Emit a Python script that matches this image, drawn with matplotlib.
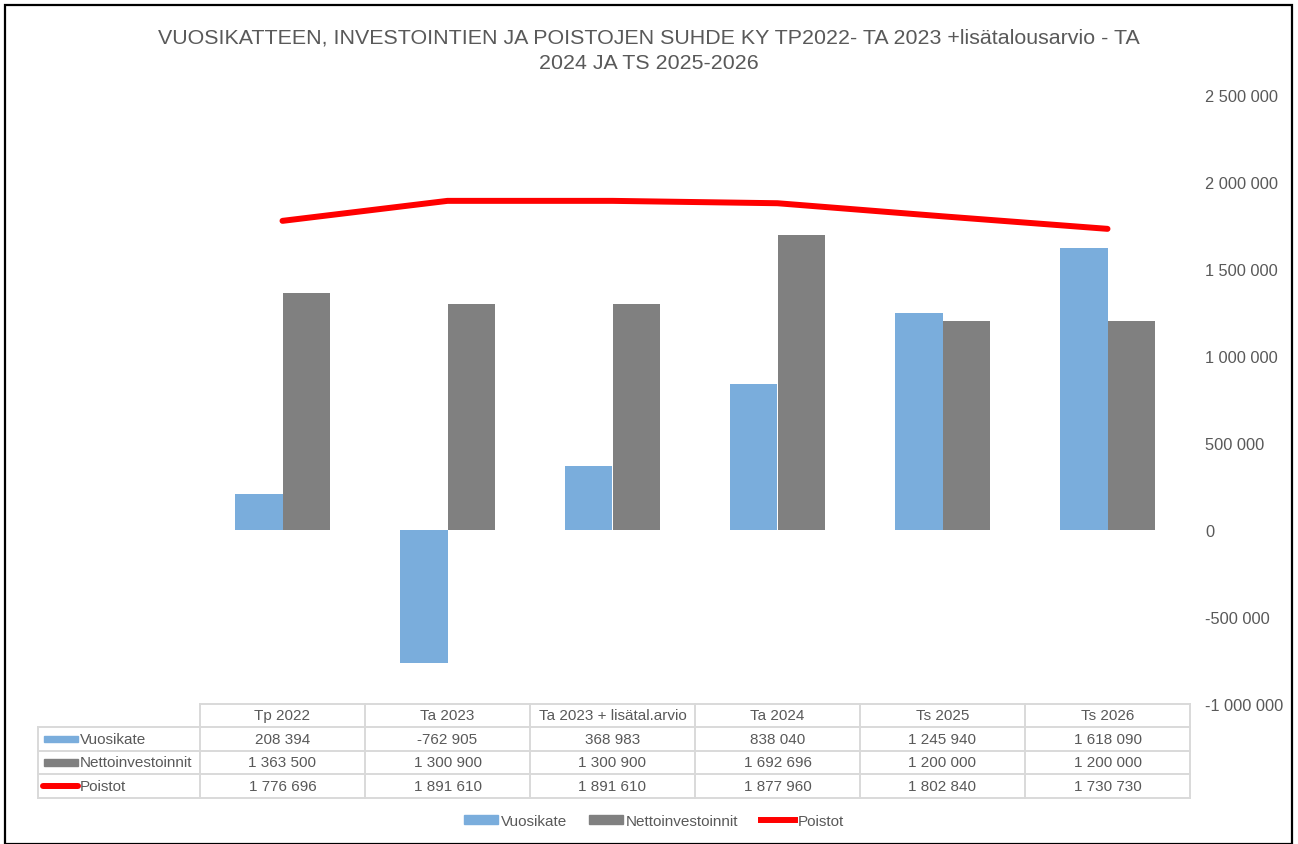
import matplotlib.pyplot as plt
import numpy as np
from matplotlib.patches import Rectangle, Patch
from matplotlib.lines import Line2D
from matplotlib.ticker import FuncFormatter

# data
categories = ["Tp 2022", "Ta 2023", "Ta 2023 + lisätal.arvio", "Ta 2024", "Ts 2025", "Ts 2026"]
vuosikate = [208394, -762905, 368983, 838040, 1245940, 1618090]
netto = [1363500, 1300900, 1300900, 1692696, 1200000, 1200000]
poistot = [1776696, 1891610, 1891610, 1877960, 1802840, 1730730]
series_names = ["Vuosikate", "Nettoinvestoinnit", "Poistot"]
title = "VUOSIKATTEEN, INVESTOINTIEN JA POISTOJEN SUHDE KY TP2022- TA 2023 +lisätalousarvio - TA\n2024 JA TS 2025-2026"

BLUE = "#7AADDC"
GRAY = "#808080"
RED = "#FF0000"
TXT = "#595959"
GRID = "#D9D9D9"
FONT = ["Liberation Sans", "DejaVu Sans"]
plt.rcParams["font.family"] = FONT

def fmt(v):
    return f"{v:,}".replace(",", " ")

W, H = 1298, 845
fig = plt.figure(figsize=(W / 100, H / 100), dpi=100)

def px(x, y):
    # pixel coords (top-left origin) -> figure fraction
    return x / W, 1 - y / H

# main axes: x 200..1190, y 96..705
x0, y0 = px(200, 705)
x1, y1 = px(1190, 96)
ax = fig.add_axes([x0, y0, x1 - x0, y1 - y0])

x = np.arange(len(categories))
bw = 0.285
ax.bar(x - bw / 2, vuosikate, bw, color=BLUE)
ax.bar(x + bw / 2, netto, bw, color=GRAY)
ax.plot(x, poistot, color=RED, lw=4.3, solid_capstyle="round")

ax.set_xlim(-0.5, len(categories) - 0.5)
ax.set_ylim(-1000000, 2500000)
ax.set_yticks(np.arange(-1000000, 2500001, 500000))
ax.yaxis.tick_right()
ax.yaxis.set_major_formatter(FuncFormatter(lambda v, p: fmt(int(v))))
ax.tick_params(axis="y", length=0, pad=10.8, labelcolor=TXT, labelsize=11.8)
for lab in ax.get_yticklabels():
    lab.set_horizontalalignment("left")
ax.set_xticks([])
for s in ax.spines.values():
    s.set_visible(False)

fig.text(0.5, 1 - 51 / H, title, ha="center", va="center", fontsize=15.4,
         color=TXT, linespacing=1.45)

# data table drawn in pixel space
tx0, tx1, ty0, ty1 = 36, 1192, 704, 800
tax = fig.add_axes([tx0 / W, 1 - ty1 / H, (tx1 - tx0) / W, (ty1 - ty0) / H])
tax.set_xlim(tx0, tx1)
tax.set_ylim(ty1, ty0)
tax.axis("off")

col_edges = [200 + i * 165 for i in range(len(categories) + 1)]
row_edges = [705, 727.5, 751.5, 775, 798.5]
lc = dict(color=GRID, lw=1.4)
tax.plot([200, 1190], [row_edges[0]] * 2, **lc)
for yy in row_edges[1:]:
    tax.plot([38, 1190], [yy, yy], **lc)
for xx in col_edges:
    tax.plot([xx, xx], [row_edges[0], row_edges[-1]], **lc)
tax.plot([38, 38], [row_edges[1], row_edges[-1]], **lc)

for i, c in enumerate(categories):
    cx = (col_edges[i] + col_edges[i + 1]) / 2
    tax.text(cx, (row_edges[0] + row_edges[1]) / 2, c, ha="center", va="center",
             fontsize=11, color=TXT)

rows = [vuosikate, netto, poistot]
for r, vals in enumerate(rows):
    cy = (row_edges[r + 1] + row_edges[r + 2]) / 2
    for i, v in enumerate(vals):
        cx = (col_edges[i] + col_edges[i + 1]) / 2
        tax.text(cx, cy, fmt(v), ha="center", va="center", fontsize=11, color=TXT)
    tax.text(80, cy, series_names[r], ha="left", va="center", fontsize=11, color=TXT)
    if r < 2:
        tax.add_patch(Rectangle((44, cy - 3), 34, 6.5, color=[BLUE, GRAY][r]))
    else:
        tax.plot([43, 78], [cy, cy], color=RED, lw=4.3, solid_capstyle="round")

handles = [Patch(color=BLUE), Patch(color=GRAY), Line2D([], [], color=RED, lw=4.3)]
leg = fig.legend(handles, series_names, loc="center", bbox_to_anchor=(654 / W, 1 - 822 / H),
                 ncol=3, frameon=False, handlelength=2.22, handleheight=0.45, handletextpad=0.2,
                 columnspacing=1.45, prop={"size": 11})
for t in leg.get_texts():
    t.set_color(TXT)

# outer frame
fig.add_artist(Rectangle((5 / W, 0), (1292 - 5) / W, 1 - 6 / H, transform=fig.transFigure,
                         fill=False, edgecolor="black", lw=1.6))

fig.savefig("out.png", dpi=100)
